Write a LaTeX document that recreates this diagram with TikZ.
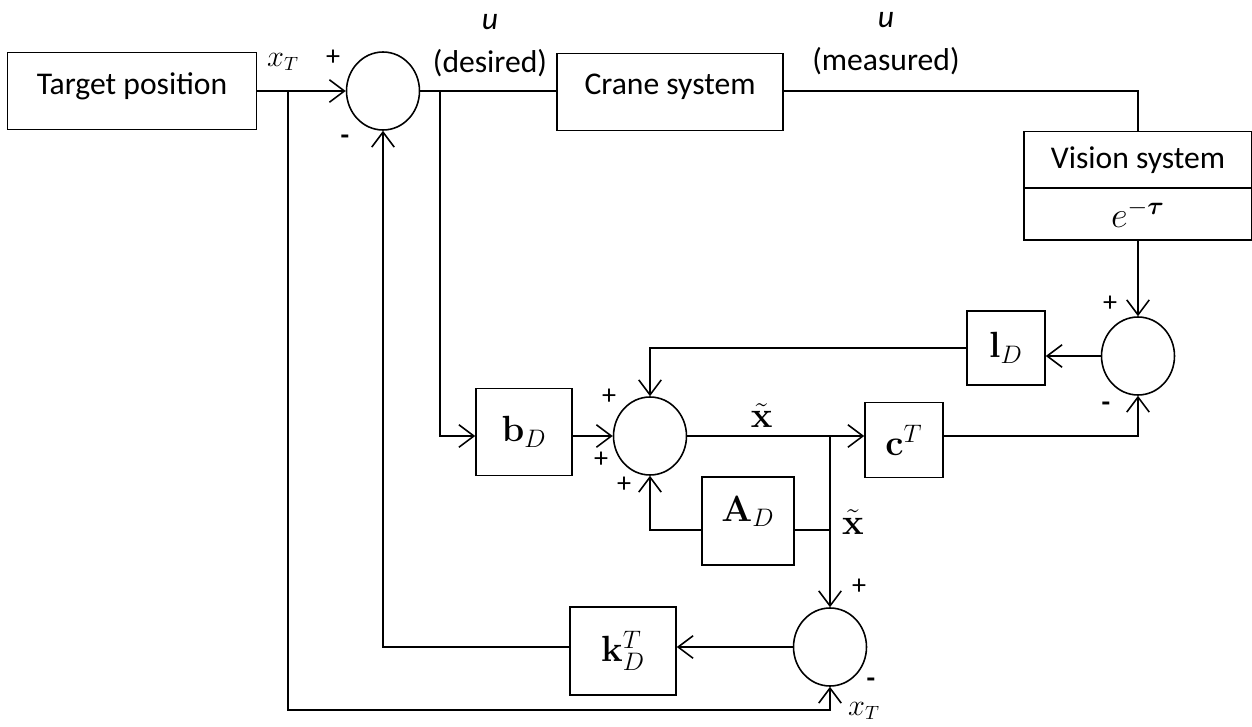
\documentclass[tikz,border=0pt]{standalone}
\usepackage[no-math]{fontspec}
\usepackage{bm}
\setmainfont{Carlito}
\usetikzlibrary{shapes.geometric,arrows.meta}

\tikzset{
  blk/.style={draw, line width=0.9pt, inner sep=1pt},
  mblk/.style={blk, font=\fontsize{21}{24}\selectfont},
  sumj/.style={ellipse, draw, line width=0.9pt, minimum width=1.46cm, minimum height=1.56cm, inner sep=0pt},
  sgn/.style={inner sep=0pt, font=\fontsize{16}{18}\selectfont},
  sml/.style={font=\fontsize{16}{18}\selectfont},
}

\begin{document}
\begin{tikzpicture}[x=0.02cm, y=-0.02cm, line width=0.9pt,
    >={Straight Barb[length=0.3cm, width=0.45cm, line width=0.9pt]},
    font=\fontsize{18}{21}\selectfont]
  \useasboundingbox (0,0) rectangle (1252,727);

  % Define the blocks
  \node[blk, minimum width=4.98cm, minimum height=1.54cm, text depth=0.3cm] (tgt) at (132,91) {Target position};
  \node[sumj] (sum1) at (383,91) {};
  \node[blk, minimum width=4.52cm, minimum height=1.54cm, text depth=0.3cm] (crane) at (670,92) {Crane system};
  \node[blk, minimum width=4.56cm, minimum height=1.14cm] (vis) at (1138,160) {Vision system};
  \node[mblk, minimum width=4.56cm, minimum height=1.04cm] (visd) at (1138,214) {$e^{-\bm{\tau}}$};
  \node[sumj] (sum2) at (1138,356) {};
  \node[mblk, minimum width=1.56cm, minimum height=1.48cm] (lD) at (1006,348) {$\mathbf{l}_D$};
  \node[sumj] (sum3) at (650,436) {};
  \node[mblk, minimum width=1.92cm, minimum height=1.74cm] (bD) at (524,432) {$\mathbf{b}_D$};
  \node[mblk, minimum width=1.56cm, minimum height=1.5cm] (cT) at (904,440) {$\mathbf{c}^T$};
  \node[mblk, minimum width=1.84cm, minimum height=1.76cm, text depth=0.5cm] (AD) at (748,521) {$\mathbf{A}_D$};
  \node[sumj] (sum4) at (830,647) {};
  \node[mblk, minimum width=2.12cm, minimum height=1.76cm] (kD) at (623,651) {$\mathbf{k}_D^T$};

  % Branch points
  \coordinate (xT) at (288,91);
  \coordinate (xTb) at (288,710);
  \coordinate (udes) at (440,91);
  \coordinate (br) at (830,436);
  \coordinate (adr) at (830,530);

  % Draw connectors
  \draw[->] (tgt.east) -- (sum1.west);
  \draw (sum1.east) -- (sum1.east -| crane.west);
  \draw (sum1.east -| crane.east) -| (vis.north);
  \draw[->] (visd.south) -- (sum2.north);
  \draw[->] (sum2.west) -- (sum2.west -| lD.east);
  \draw[->] (lD.west) -| (sum3.north);
  \draw[->] (udes) |- (sum3.west -| bD.west);
  \draw[->] (sum3.west -| bD.east) -- (sum3.west);
  \draw[->] (sum3.east) -- (sum3.east -| cT.west) node[pos=0.42, above=1pt, font=\fontsize{20}{22}\selectfont] {$\tilde{\mathbf{x}}$};
  \draw[->] (cT.east |- br) -| (sum2.south);
  \draw (adr) -- (adr -| AD.east);
  \draw[->] (adr -| AD.west) -| (sum3.south);
  \draw[->] (br) -- (sum4.north);
  \draw[->] (sum4.west) -- (sum4.west -| kD.east);
  \draw[->] (sum4.west -| kD.west) -| (sum1.south);
  \draw[->] (xT) -- (xTb) -| (sum4.south);

  % Signs and signal labels
  \node[sgn] (p1) at (333,58) {+};
  \node[sgn] (m1) at (345,140) {\textbf{-}};
  \node[sml] (xt1) at (283,62) {$x_T$};
  \node (u1) at (490,22) {\textit{u}};
  \node (des) at (490,63) {(desired)};
  \node (u2) at (886,20) {\textit{u}};
  \node (mea) at (886,61) {(measured)};
  \node[sgn] (p2) at (1110,304) {+};
  \node[sgn] (m2) at (1106,407) {\textbf{-}};
  \node[sgn] (p3) at (609,397) {+};
  \node[sgn] (p4) at (601,460) {+};
  \node[sgn] (p5) at (624,485) {+};
  \node[font=\fontsize{20}{22}\selectfont] (xs2) at (853,522) {$\tilde{\mathbf{x}}$};
  \node[sgn] (p6) at (859,587) {+};
  \node[sgn] (m3) at (871,683) {\textbf{-}};
  \node[sml] (xt2) at (864,711) {$x_T$};
\end{tikzpicture}
\end{document}
